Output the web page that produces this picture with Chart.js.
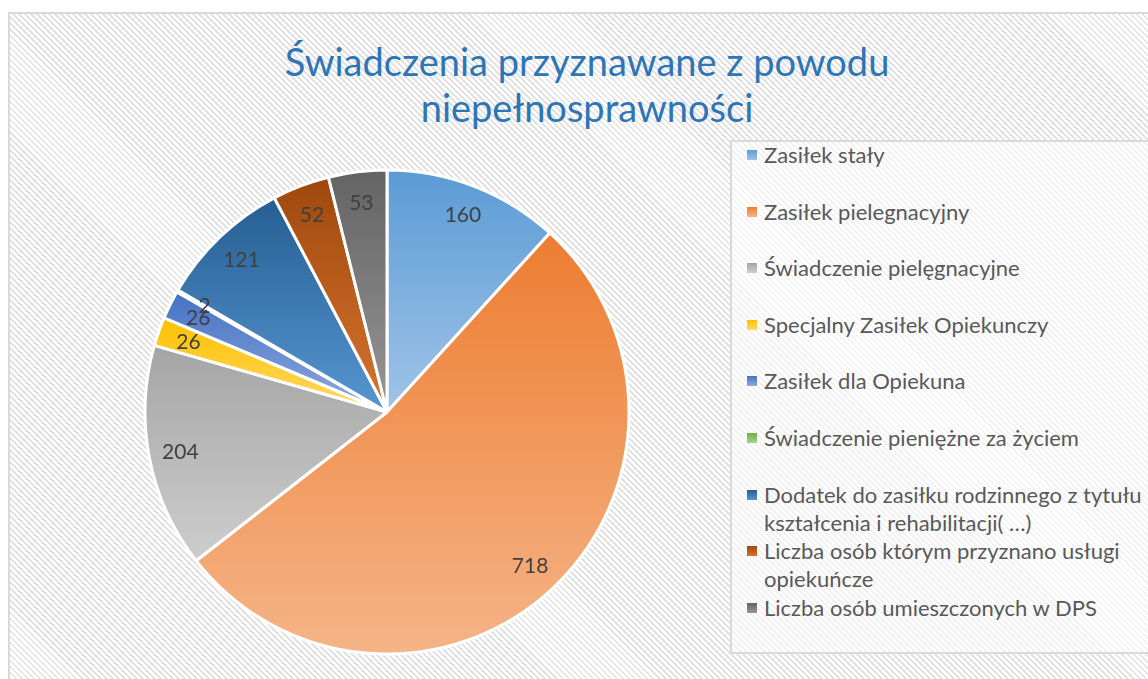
<!DOCTYPE html>
<html>
<head>
<meta charset="utf-8">
<script src="https://cdn.jsdelivr.net/npm/chart.js@4.4.0/dist/chart.umd.min.js"></script>
<style>
  html, body { margin: 0; padding: 0; width: 1148px; height: 679px; overflow: hidden; background: #fff; font-family: Lato, "Open Sans", sans-serif; }
  #frame {
    position: absolute; left: 8px; top: 12px; width: 1200px; height: 700px;
    border: 2px solid #d9d9d9; box-sizing: border-box;
    background: repeating-linear-gradient(45deg, #e3e3e3 0 2px, #ffffff 2px 4.25px);
  }
  #title {
    position: absolute; left: 8px; width: 1158px; top: 38px;
    text-align: center; color: #2E75B6; font-size: 38px; line-height: 46px;
  }
  #legend {
    position: absolute; left: 730px; top: 140px; width: 500px; height: 514px;
    border: 2px solid #d9d9d9; box-sizing: border-box;
    background: rgba(255, 255, 255, 0.55);
  }
  #legend .item { position: absolute; left: 32px; color: #595959; font-size: 22px; line-height: 28px; white-space: nowrap; }
  #legend .box { position: absolute; left: -17px; top: 9px; width: 10px; height: 10px; }
  canvas { position: absolute; left: 0; top: 0; }
</style>
</head>
<body>
<div id="frame"></div>
<div id="title">Świadczenia przyznawane z powodu<br>niepełnosprawności</div>
<div id="legend"></div>
<canvas id="chart" width="1148" height="679"></canvas>
<script>
const labels = [
  'Zasiłek stały',
  'Zasiłek pielegnacyjny',
  'Świadczenie pielęgnacyjne',
  'Specjalny Zasiłek Opiekunczy',
  'Zasiłek dla Opiekuna',
  'Świadczenie pieniężne za życiem',
  ['Dodatek do zasiłku rodzinnego z tytułu', 'kształcenia i rehabilitacji( …)'],
  ['Liczba osób którym przyznano usługi', 'opiekuńcze'],
  'Liczba osób umieszczonych w DPS'
];
const values = [160, 718, 204, 26, 26, 2, 121, 52, 53];

// slice gradients go from the darker colour at the top to the lighter one at the bottom
const topColors = ['#5B9BD5', '#ED7D31', '#A5A5A5', '#FFC000', '#4472C4', '#70AD47', '#255E91', '#9E480E', '#636363'];
const bottomColors = ['#A0C4E8', '#F5B487', '#CDCDCD', '#FFD966', '#8FAADC', '#A9D18E', '#5796D2', '#D8742F', '#979797'];

const sliceGradients = {
  id: 'sliceGradients',
  beforeDatasetsDraw(chart) {
    const ctx = chart.ctx;
    chart.getDatasetMeta(0).data.forEach((arc, i) => {
      const p = arc.getProps(['x', 'y', 'startAngle', 'endAngle', 'outerRadius'], true);
      let top = p.y, bottom = p.y;
      for (let k = 0; k <= 40; k++) {
        const a = p.startAngle + (p.endAngle - p.startAngle) * k / 40;
        const py = p.y + Math.sin(a) * p.outerRadius;
        top = Math.min(top, py);
        bottom = Math.max(bottom, py);
      }
      const g = ctx.createLinearGradient(0, top, 0, bottom);
      g.addColorStop(0, topColors[i]);
      g.addColorStop(1, bottomColors[i]);
      arc.options.backgroundColor = g;
    });
  }
};

const sliceLabels = {
  id: 'sliceLabels',
  afterDatasetsDraw(chart) {
    const ctx = chart.ctx;
    ctx.save();
    ctx.font = '21px Lato';
    ctx.fillStyle = '#404040';
    ctx.textAlign = 'center';
    ctx.textBaseline = 'middle';
    chart.getDatasetMeta(0).data.forEach((arc, i) => {
      const p = arc.getProps(['x', 'y', 'startAngle', 'endAngle', 'outerRadius'], true);
      const mid = (p.startAngle + p.endAngle) / 2;
      const r = p.outerRadius * 0.87;
      ctx.fillText(String(values[i]), p.x + Math.cos(mid) * r, p.y + Math.sin(mid) * r);
    });
    ctx.restore();
  }
};

new Chart(document.getElementById('chart'), {
  type: 'pie',
  data: {
    labels: labels,
    datasets: [{
      data: values,
      backgroundColor: topColors,
      borderColor: '#ffffff',
      borderWidth: 3,
      radius: 242
    }]
  },
  options: {
    responsive: false,
    animation: false,
    devicePixelRatio: 1,
    layout: { padding: { left: 137, top: 162, right: 511, bottom: 17 } },
    plugins: {
      legend: { display: false },
      title: { display: false },
      tooltip: { enabled: false }
    }
  },
  plugins: [sliceGradients, sliceLabels]
});

// legend box on the right
const legendEl = document.getElementById('legend');
labels.forEach((lab, i) => {
  const item = document.createElement('div');
  item.className = 'item';
  item.style.top = (-1 + i * 56.6) + 'px';
  const box = document.createElement('span');
  box.className = 'box';
  box.style.background = 'linear-gradient(' + topColors[i] + ', ' + bottomColors[i] + ')';
  item.appendChild(box);
  const lines = Array.isArray(lab) ? lab : [lab];
  lines.forEach((t, k) => {
    if (k) item.appendChild(document.createElement('br'));
    item.appendChild(document.createTextNode(t));
  });
  legendEl.appendChild(item);
});
</script>
</body>
</html>
